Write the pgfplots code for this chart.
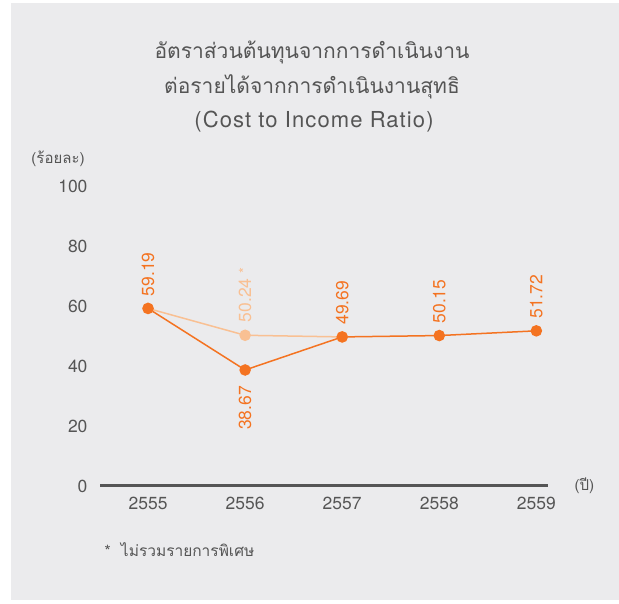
\documentclass[border=0pt]{standalone}
\usepackage{pgfplots}
\pgfplotsset{compat=1.18}
\usepackage{fontspec}
\setmainfont{TeX Gyre Heros}
\newfontfamily\thaifont[Script=Thai]{Loma}
\newfontfamily\titlefont[LetterSpace=5]{TeX Gyre Heros}

\definecolor{bg}{HTML}{EBEBED}
\definecolor{txt}{HTML}{555555}
\definecolor{dark}{HTML}{F47321}
\definecolor{light}{HTML}{F9C093}

\begin{document}
\begin{tikzpicture}
\useasboundingbox (0pt,0pt) rectangle (619pt,603pt);
\fill[white] (0pt,0pt) rectangle (619pt,603pt);
\fill[bg] (11pt,3pt) rectangle (619pt,600pt);

% title
\node[txt, font=\thaifont\fontsize{21}{24}\selectfont] at (312pt,551pt) {อัตราส่วนต้นทุนจากการดำเนินงาน};
\node[txt, font=\thaifont\fontsize{21}{24}\selectfont] at (312pt,516pt) {ต่อรายได้จากการดำเนินงานสุทธิ};
\node[txt, font=\titlefont\fontsize{22}{26}\selectfont] at (314pt,481pt) {(Cost to Income Ratio)};

\node[txt, font=\thaifont\fontsize{15}{18}\selectfont] at (58pt,444pt) {(ร้อยละ)};
\node[txt, font=\thaifont\fontsize{15}{18}\selectfont, anchor=west] at (571pt,117pt) {(ปี)};
\node[txt, font=\thaifont\fontsize{15.5}{18}\selectfont, anchor=west] at (101pt,53pt) {*\ \ ไม่รวมรายการพิเศษ};

\begin{axis}[
    at={(100pt,117pt)}, anchor=south west,
    scale only axis, width=448pt, height=300pt,
    xmin=-0.495, xmax=4.12, ymin=0, ymax=100,
    clip=false,
    axis x line*=bottom, axis y line*=left,
    x axis line style={line width=3pt, color=txt, -},
    y axis line style={draw=none},
    major tick length=0pt,
    xtick={0,1,2,3,4},
    xticklabels={2555,2556,2557,2558,2559},
    ytick={0,20,40,60,80,100},
    /pgf/number format/assume math mode=true,
    tick label style={font=\fontsize{17.5}{20}\selectfont, text=txt},
    yticklabel style={xshift=-9pt},
    xticklabel style={yshift=-8pt},
  ]
  % excluding special items
  \addplot[light, line width=1.5pt, mark=*, mark size=5pt, mark options={fill=light, draw=light}]
    coordinates {(0,59.19) (1,50.24) (2,49.69)};
  % reported
  \addplot[dark, line width=1.5pt, mark=*, mark size=5pt, mark options={fill=dark, draw=dark}]
    coordinates {(0,59.19) (1,38.67) (2,49.69) (3,50.15) (4,51.72)};

  % labels
  \addplot[draw=none, point meta=explicit symbolic, nodes near coords,
    every node near coord/.append style={yshift=12pt, rotate=90, anchor=west,
      text=dark, font=\fontsize{17.5}{20}\selectfont, inner sep=0pt}]
    coordinates {(0,59.19) [59.19] (2,49.69) [49.69] (3,50.15) [50.15] (4,51.72) [51.72]};
  \addplot[draw=none, point meta=explicit symbolic, nodes near coords,
    every node near coord/.append style={yshift=-16pt, rotate=90, anchor=east,
      text=dark, font=\fontsize{17.5}{20}\selectfont, inner sep=0pt}]
    coordinates {(1,38.67) [38.67]};
  \addplot[draw=none, point meta=explicit symbolic, nodes near coords,
    every node near coord/.append style={yshift=13pt, rotate=90, anchor=west,
      text=light, font=\fontsize{17.5}{20}\selectfont, inner sep=0pt}]
    coordinates {(1,50.24) [{50.24 \raisebox{0.15ex}{\fontsize{15}{15}\selectfont*}}]};
\end{axis}
\end{tikzpicture}
\end{document}
